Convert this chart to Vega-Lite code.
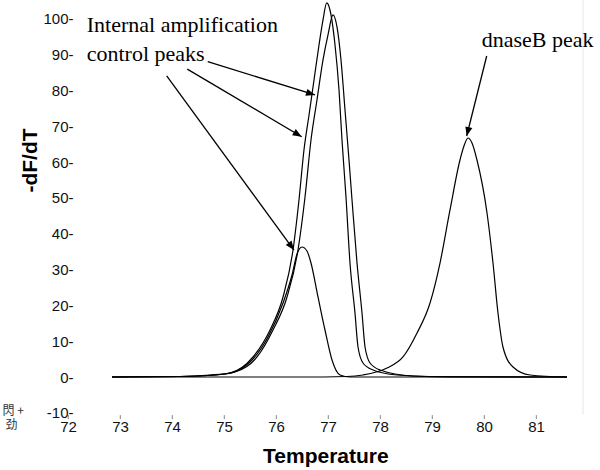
{
  "$schema": "https://vega.github.io/schema/vega-lite/v6.json",
  "autosize": {"type": "none"},
  "padding": {"left": 62.8, "top": 0, "right": 12, "bottom": 55.4},
  "width": 525.2,
  "height": 414.6,
  "config": {"view": {"stroke": null}, "font": "Liberation Sans"},
  "datasets": {
    "curves": [
      {"curve": "A", "temperature": 72.846, "dFdT": 0},
      {"curve": "A", "temperature": 74.154, "dFdT": 0.14},
      {"curve": "A", "temperature": 74.731, "dFdT": 0.56},
      {"curve": "A", "temperature": 75.115, "dFdT": 1.12},
      {"curve": "A", "temperature": 75.558, "dFdT": 5.59},
      {"curve": "A", "temperature": 75.885, "dFdT": 13.13},
      {"curve": "A", "temperature": 76.135, "dFdT": 22.35},
      {"curve": "A", "temperature": 76.327, "dFdT": 35.47},
      {"curve": "A", "temperature": 76.442, "dFdT": 49.44},
      {"curve": "A", "temperature": 76.538, "dFdT": 63.41},
      {"curve": "A", "temperature": 76.635, "dFdT": 73.18},
      {"curve": "A", "temperature": 76.731, "dFdT": 82.96},
      {"curve": "A", "temperature": 76.827, "dFdT": 92.74},
      {"curve": "A", "temperature": 76.904, "dFdT": 99.72},
      {"curve": "A", "temperature": 76.975, "dFdT": 104.47},
      {"curve": "A", "temperature": 77.038, "dFdT": 102.51},
      {"curve": "A", "temperature": 77.135, "dFdT": 92.74},
      {"curve": "A", "temperature": 77.212, "dFdT": 80.17},
      {"curve": "A", "temperature": 77.269, "dFdT": 66.2},
      {"curve": "A", "temperature": 77.346, "dFdT": 50.28},
      {"curve": "A", "temperature": 77.423, "dFdT": 31.84},
      {"curve": "A", "temperature": 77.519, "dFdT": 17.88},
      {"curve": "A", "temperature": 77.577, "dFdT": 8.38},
      {"curve": "A", "temperature": 77.673, "dFdT": 3.91},
      {"curve": "A", "temperature": 77.865, "dFdT": 1.96},
      {"curve": "A", "temperature": 78.327, "dFdT": 0.56},
      {"curve": "A", "temperature": 78.962, "dFdT": 0.14},
      {"curve": "A", "temperature": 81.596, "dFdT": 0},
      {"curve": "B", "temperature": 72.846, "dFdT": 0},
      {"curve": "B", "temperature": 74.154, "dFdT": 0.14},
      {"curve": "B", "temperature": 74.827, "dFdT": 0.56},
      {"curve": "B", "temperature": 75.212, "dFdT": 1.4},
      {"curve": "B", "temperature": 75.635, "dFdT": 5.59},
      {"curve": "B", "temperature": 75.942, "dFdT": 13.13},
      {"curve": "B", "temperature": 76.212, "dFdT": 22.35},
      {"curve": "B", "temperature": 76.423, "dFdT": 35.47},
      {"curve": "B", "temperature": 76.558, "dFdT": 50.28},
      {"curve": "B", "temperature": 76.673, "dFdT": 66.2},
      {"curve": "B", "temperature": 76.788, "dFdT": 77.37},
      {"curve": "B", "temperature": 76.904, "dFdT": 88.55},
      {"curve": "B", "temperature": 77.0, "dFdT": 95.53},
      {"curve": "B", "temperature": 77.096, "dFdT": 101.12},
      {"curve": "B", "temperature": 77.173, "dFdT": 97.77},
      {"curve": "B", "temperature": 77.25, "dFdT": 88.55},
      {"curve": "B", "temperature": 77.327, "dFdT": 74.58},
      {"curve": "B", "temperature": 77.404, "dFdT": 60.61},
      {"curve": "B", "temperature": 77.462, "dFdT": 49.44},
      {"curve": "B", "temperature": 77.558, "dFdT": 31.84},
      {"curve": "B", "temperature": 77.654, "dFdT": 17.88},
      {"curve": "B", "temperature": 77.712, "dFdT": 8.38},
      {"curve": "B", "temperature": 77.808, "dFdT": 3.91},
      {"curve": "B", "temperature": 78.0, "dFdT": 1.96},
      {"curve": "B", "temperature": 78.635, "dFdT": 0.28},
      {"curve": "B", "temperature": 79.346, "dFdT": 0},
      {"curve": "B", "temperature": 81.596, "dFdT": 0},
      {"curve": "C", "temperature": 72.846, "dFdT": 0},
      {"curve": "C", "temperature": 74.154, "dFdT": 0.14},
      {"curve": "C", "temperature": 75.019, "dFdT": 0.84},
      {"curve": "C", "temperature": 75.5, "dFdT": 4.19},
      {"curve": "C", "temperature": 75.846, "dFdT": 11.17},
      {"curve": "C", "temperature": 76.135, "dFdT": 20.67},
      {"curve": "C", "temperature": 76.308, "dFdT": 28.49},
      {"curve": "C", "temperature": 76.404, "dFdT": 34.36},
      {"curve": "C", "temperature": 76.5, "dFdT": 36.31},
      {"curve": "C", "temperature": 76.596, "dFdT": 35.2},
      {"curve": "C", "temperature": 76.673, "dFdT": 31.84},
      {"curve": "C", "temperature": 76.808, "dFdT": 22.35},
      {"curve": "C", "temperature": 76.942, "dFdT": 13.13},
      {"curve": "C", "temperature": 77.077, "dFdT": 4.75},
      {"curve": "C", "temperature": 77.231, "dFdT": 0.56},
      {"curve": "C", "temperature": 77.423, "dFdT": 0},
      {"curve": "C", "temperature": 81.596, "dFdT": 0},
      {"curve": "D", "temperature": 72.846, "dFdT": 0},
      {"curve": "D", "temperature": 76.462, "dFdT": 0},
      {"curve": "D", "temperature": 77.365, "dFdT": 0.14},
      {"curve": "D", "temperature": 77.673, "dFdT": 0.56},
      {"curve": "D", "temperature": 78.135, "dFdT": 2.51},
      {"curve": "D", "temperature": 78.442, "dFdT": 5.59},
      {"curve": "D", "temperature": 78.712, "dFdT": 12.29},
      {"curve": "D", "temperature": 78.962, "dFdT": 20.67},
      {"curve": "D", "temperature": 79.154, "dFdT": 31.84},
      {"curve": "D", "temperature": 79.346, "dFdT": 46.65},
      {"curve": "D", "temperature": 79.538, "dFdT": 60.61},
      {"curve": "D", "temperature": 79.615, "dFdT": 64.53},
      {"curve": "D", "temperature": 79.692, "dFdT": 66.76},
      {"curve": "D", "temperature": 79.769, "dFdT": 65.36},
      {"curve": "D", "temperature": 79.865, "dFdT": 60.61},
      {"curve": "D", "temperature": 80.058, "dFdT": 45.81},
      {"curve": "D", "temperature": 80.173, "dFdT": 31.84},
      {"curve": "D", "temperature": 80.269, "dFdT": 17.88},
      {"curve": "D", "temperature": 80.365, "dFdT": 8.38},
      {"curve": "D", "temperature": 80.558, "dFdT": 2.79},
      {"curve": "D", "temperature": 80.885, "dFdT": 0.56},
      {"curve": "D", "temperature": 81.596, "dFdT": 0}
    ],
    "arrows": [
      {"arrow": 1, "temperature": 74.687, "dFdT": 88.07, "temperature_end": 76.75, "dFdT_end": 78.77},
      {"arrow": 2, "temperature": 74.294, "dFdT": 85.98, "temperature_end": 76.494, "dFdT_end": 67.12},
      {"arrow": 3, "temperature": 73.898, "dFdT": 84.08, "temperature_end": 76.346, "dFdT_end": 35.47},
      {"arrow": 4, "temperature": 80.052, "dFdT": 89.66, "temperature_end": 79.667, "dFdT_end": 67.32}
    ],
    "labels": [
      {"text": "Internal amplification", "temperature": 72.36, "dFdT": 96.4},
      {"text": "control peaks", "temperature": 72.36, "dFdT": 88.3},
      {"text": "dnaseB peak", "temperature": 79.956, "dFdT": 92.3}
    ],
    "glyphs": [
      {"text": "閃 +", "temperature": 70.74, "dFdT": -9.6},
      {"text": "劲", "temperature": 70.8, "dFdT": -13.3}
    ],
    "border": [{"temperature": 81.904}]
  },
  "layer": [
    {
      "data": {"name": "border"},
      "mark": {"type": "rule", "color": "#e6e6e6", "strokeWidth": 1},
      "encoding": {
        "x": {"field": "temperature", "type": "quantitative", "title": "Temperature"}
      }
    },
    {
      "data": {"name": "curves"},
      "mark": {"type": "line", "interpolate": "monotone", "color": "black", "strokeWidth": 1.2},
      "encoding": {
        "x": {
          "field": "temperature", "type": "quantitative", "title": "Temperature",
          "scale": {"domain": [71.9, 82.0], "nice": false, "zero": false},
          "axis": {
            "values": [72, 73, 74, 75, 76, 77, 78, 79, 80, 81], "tickCount": 20,
            "labelExpr": "'' + datum.value",
            "domain": false, "grid": false, "labelFlush": false, "labelOverlap": false,
            "tickSize": 4, "tickColor": "#888888", "tickWidth": 1,
            "labelPadding": 1, "labelFontSize": 15, "labelColor": "#111111",
            "labelFont": "Liberation Sans",
            "titleFontSize": 21, "titleFontWeight": "bold", "titleColor": "black",
            "titleFont": "Liberation Sans", "titlePadding": 11
          }
        },
        "y": {
          "field": "dFdT", "type": "quantitative", "title": "-dF/dT",
          "scale": {"domain": [-10.5, 105.3], "nice": false, "zero": false},
          "axis": {
            "values": [-10, 0, 10, 20, 30, 40, 50, 60, 70, 80, 90, 100], "tickCount": 20,
            "labelExpr": "datum.value + '-'",
            "domain": false, "grid": false, "ticks": false, "labelFlush": false, "labelOverlap": false,
            "labelPadding": -10.2, "labelFontSize": 15, "labelColor": "#111111",
            "labelFont": "Liberation Sans",
            "titleFontSize": 21, "titleFontWeight": "bold", "titleColor": "black",
            "titleFont": "Liberation Sans",
            "titleX": -32, "titleY": 160, "titleAngle": 270, "titleBaseline": "middle", "titleAlign": "center"
          }
        },
        "detail": {"field": "curve"},
        "order": {"field": "temperature", "type": "quantitative"}
      }
    },
    {
      "data": {"name": "arrows"},
      "mark": {"type": "rule", "color": "black", "strokeWidth": 1.3},
      "encoding": {
        "x": {"field": "temperature", "type": "quantitative", "title": "Temperature"},
        "y": {"field": "dFdT", "type": "quantitative", "title": "-dF/dT"},
        "x2": {"field": "temperature_end"},
        "y2": {"field": "dFdT_end"}
      }
    },
    {
      "data": {"name": "arrows"},
      "transform": [{"filter": "datum.arrow == 1"}],
      "mark": {"type": "point", "shape": "M0,0L-1,-0.4L-1,0.4Z", "filled": true, "color": "black", "opacity": 1, "size": 324, "angle": 17.2, "strokeWidth": 0},
      "encoding": {
        "x": {"field": "temperature_end", "type": "quantitative", "title": "Temperature"},
        "y": {"field": "dFdT_end", "type": "quantitative", "title": "-dF/dT"}
      }
    },
    {
      "data": {"name": "arrows"},
      "transform": [{"filter": "datum.arrow == 2"}],
      "mark": {"type": "point", "shape": "M0,0L-1,-0.4L-1,0.4Z", "filled": true, "color": "black", "opacity": 1, "size": 324, "angle": 30.6, "strokeWidth": 0},
      "encoding": {
        "x": {"field": "temperature_end", "type": "quantitative", "title": "Temperature"},
        "y": {"field": "dFdT_end", "type": "quantitative", "title": "-dF/dT"}
      }
    },
    {
      "data": {"name": "arrows"},
      "transform": [{"filter": "datum.arrow == 3"}],
      "mark": {"type": "point", "shape": "M0,0L-1,-0.4L-1,0.4Z", "filled": true, "color": "black", "opacity": 1, "size": 324, "angle": 53.8, "strokeWidth": 0},
      "encoding": {
        "x": {"field": "temperature_end", "type": "quantitative", "title": "Temperature"},
        "y": {"field": "dFdT_end", "type": "quantitative", "title": "-dF/dT"}
      }
    },
    {
      "data": {"name": "arrows"},
      "transform": [{"filter": "datum.arrow == 4"}],
      "mark": {"type": "point", "shape": "M0,0L-1,-0.4L-1,0.4Z", "filled": true, "color": "black", "opacity": 1, "size": 324, "angle": 104.0, "strokeWidth": 0},
      "encoding": {
        "x": {"field": "temperature_end", "type": "quantitative", "title": "Temperature"},
        "y": {"field": "dFdT_end", "type": "quantitative", "title": "-dF/dT"}
      }
    },
    {
      "data": {"name": "labels"},
      "mark": {"type": "text", "font": "Liberation Serif", "fontSize": 22, "align": "left", "baseline": "alphabetic", "color": "black"},
      "encoding": {
        "x": {"field": "temperature", "type": "quantitative", "title": "Temperature"},
        "y": {"field": "dFdT", "type": "quantitative", "title": "-dF/dT"},
        "text": {"field": "text"}
      }
    },
    {
      "data": {"name": "glyphs"},
      "mark": {"type": "text", "font": "Noto Sans CJK SC", "fontSize": 12, "align": "left", "baseline": "middle", "color": "#333333"},
      "encoding": {
        "x": {"field": "temperature", "type": "quantitative", "title": "Temperature"},
        "y": {"field": "dFdT", "type": "quantitative", "title": "-dF/dT"},
        "text": {"field": "text"}
      }
    }
  ]
}
